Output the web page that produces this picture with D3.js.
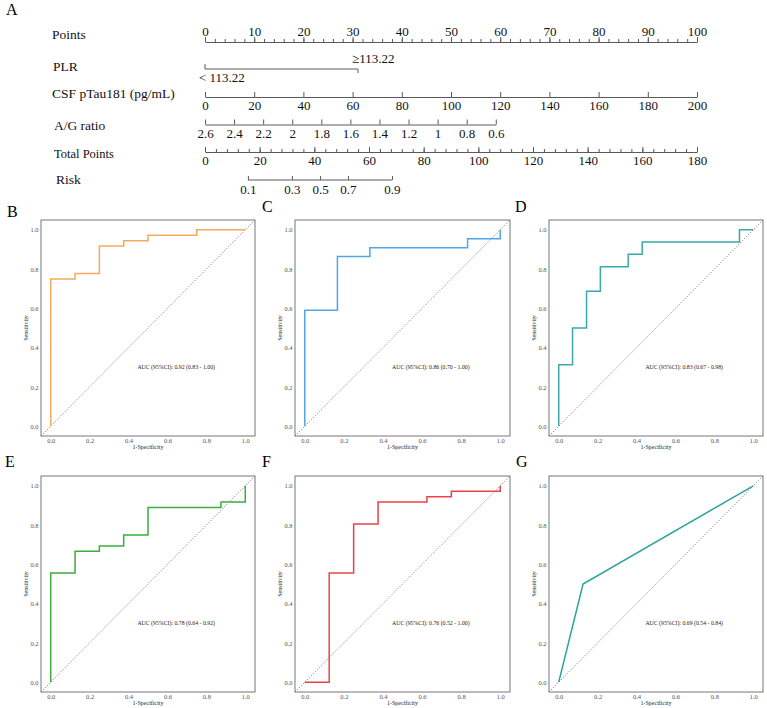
<!DOCTYPE html>
<html><head><meta charset="utf-8">
<script src="https://cdn.jsdelivr.net/npm/d3@7"></script>
<style>body{margin:0;background:#fff}svg{display:block}</style>
</head><body>
<svg id="c" width="767" height="708"></svg>
<script>
// ---------- Nomogram data ----------
const pointsMajor = [0,10,20,30,40,50,60,70,80,90,100];
const plrLabels = ["< 113.22", "≥113.22"];
const plrPoints = [0, 31.1];
const csfTicks = [0,20,40,60,80,100,120,140,160,180,200];
const csfMaxPoints = 100;           // points at CSF = 200
const agTicks = [2.6,2.4,2.2,2,1.8,1.6,1.4,1.2,1,0.8,0.6];
const agMaxPoints = 59.1;           // points at A/G = 0.6
const totalTicks = [0,20,40,60,80,100,120,140,160,180];
const riskTicks = [0.1,0.3,0.5,0.7,0.9];
const riskAtTotal = [15.7,31.8,42.1,52.3,68.4];
const rowLabels = ["Points","PLR","CSF pTau181 (pg/mL)","A/G ratio","Total Points","Risk"];

// ---------- ROC data ----------
const fprB = [0,0,0.125,0.125,0.25,0.25,0.375,0.375,0.5,0.5,0.75,0.75,1];
const tprB = [0,0.75,0.75,0.778,0.778,0.917,0.917,0.944,0.944,0.972,0.972,1,1];
const fprC = [0,0,0.167,0.167,0.333,0.333,0.833,0.833,1,1];
const tprC = [0,0.591,0.591,0.864,0.864,0.909,0.909,0.955,0.955,1];
const fprD = [0,0,0.071,0.071,0.143,0.143,0.214,0.214,0.357,0.357,0.429,0.429,0.929,0.929,1];
const tprD = [0,0.3125,0.3125,0.5,0.5,0.6875,0.6875,0.8125,0.8125,0.875,0.875,0.9375,0.9375,1,1];
const fprE = [0,0,0.125,0.125,0.25,0.25,0.375,0.375,0.5,0.5,0.875,0.875,1,1];
const tprE = [0,0.556,0.556,0.667,0.667,0.694,0.694,0.75,0.75,0.889,0.889,0.917,0.917,1];
const fprF = [0,0.125,0.125,0.25,0.25,0.375,0.375,0.625,0.625,0.75,0.75,1,1];
const tprF = [0,0,0.556,0.556,0.806,0.806,0.917,0.917,0.944,0.944,0.972,0.972,1];
const fprG = [0,0.125,1];
const tprG = [0,0.5,1];
const panelLetters = ["B","C","D","E","F","G"];
const aucTexts = ["AUC (95%CI): 0.92 (0.83 - 1.00)","AUC (95%CI): 0.86 (0.70 - 1.00)","AUC (95%CI): 0.83 (0.67 - 0.98)",
                  "AUC (95%CI): 0.78 (0.64 - 0.92)","AUC (95%CI): 0.76 (0.52 - 1.00)","AUC (95%CI): 0.69 (0.54 - 0.84)"];
const rocColors = ["#F5A95E","#4EA7E6","#3AA9AE","#3DAE3D","#E8434A","#2AA39E"];
const rocTicks = [0,0.2,0.4,0.6,0.8,1.0];

const SERIF = '"Liberation Serif","Times New Roman",serif';
const svg = d3.select("#c");
const axisColor = "#5a5a5a";

// ---------- Nomogram ----------
const x = d3.scaleLinear().domain([0,100]).range([205,697]);
svg.append("text").attr("x",6).attr("y",15).attr("font-family",SERIF).attr("font-size",16).text("A");

const labelPos = [[52,39],[53,71],[52,98],[54,130],[54,158],[56,184]];
const labelSize = [13.5,13.5,13.5,13.5,12.5,13.5];
rowLabels.forEach((t,i)=>{
  svg.append("text").attr("x",labelPos[i][0]).attr("y",labelPos[i][1])
    .attr("font-family",SERIF).attr("font-size",labelSize[i]).attr("fill","#111").text(t);
});

function styleAxis(g, size){
  g.attr("font-family",SERIF).attr("font-size",size);
  g.selectAll("text").attr("font-family",SERIF);
  g.selectAll("path.domain").attr("stroke",axisColor).attr("stroke-width",1);
  g.selectAll(".tick line").attr("stroke",axisColor);
  g.selectAll(".tick text").attr("fill","#111");
}

// Points axis
const gp = svg.append("g").attr("transform","translate(0,42)");
gp.call(d3.axisTop(x).tickValues(pointsMajor).tickSizeInner(5).tickSizeOuter(0).tickPadding(1.5));
gp.append("g").call(d3.axisTop(x).tickValues(d3.range(0,101,2)).tickSizeInner(3).tickSizeOuter(0).tickFormat(""))
  .selectAll("path.domain").remove();
styleAxis(gp,13);

// PLR
const plrY = 69;
const plrX = plrPoints.map(p=>x(p));
svg.append("path").attr("fill","none").attr("stroke",axisColor)
  .attr("d",d3.line()([[plrX[0],plrY-5],[plrX[0],plrY],[plrX[1],plrY],[plrX[1],plrY+4]]));
svg.append("text").attr("x",plrX[0]-6).attr("y",82).attr("font-family",SERIF).attr("font-size",13).attr("fill","#111").text(plrLabels[0]);
svg.append("text").attr("x",plrX[1]-6).attr("y",63).attr("font-family",SERIF).attr("font-size",13).attr("fill","#111").text(plrLabels[1]);

// CSF
const xCsf = d3.scaleLinear().domain([0,200]).range([x(0),x(csfMaxPoints)]);
const gc = svg.append("g").attr("transform","translate(0,97)");
gc.call(d3.axisBottom(xCsf).tickValues(csfTicks).tickSizeInner(-5).tickSizeOuter(0).tickPadding(4).tickFormat(d3.format("d")));
styleAxis(gc,13);

// A/G ratio
const xAg = d3.scaleLinear().domain([2.6,0.6]).range([x(0),x(agMaxPoints)]);
const ga = svg.append("g").attr("transform","translate(0,124.5)");
ga.call(d3.axisBottom(xAg).tickValues(agTicks).tickSizeInner(-5).tickSizeOuter(0).tickPadding(4).tickFormat(d=>String(+d.toFixed(1))));
styleAxis(ga,13);

// Total points
const xTot = d3.scaleLinear().domain([0,180]).range([205,697]);
const gt = svg.append("g").attr("transform","translate(0,152)");
gt.call(d3.axisBottom(xTot).tickValues(totalTicks).tickSizeInner(-5).tickSizeOuter(0).tickPadding(4));
gt.append("g").call(d3.axisBottom(xTot).tickValues(d3.range(0,181,4)).tickSizeInner(-3).tickSizeOuter(0).tickFormat(""))
  .selectAll("path.domain").remove();
styleAxis(gt,13);

// Risk
const gr = svg.append("g").attr("transform","translate(0,180)");
gr.call(d3.axisBottom(xTot).tickValues(riskAtTotal).tickSizeInner(-4).tickSizeOuter(0).tickPadding(5)
  .tickFormat((d,i)=>riskTicks[i]));
gr.select("path.domain").attr("d",`M${xTot(riskAtTotal[0])},0H${xTot(riskAtTotal[riskAtTotal.length-1])}`);
styleAxis(gr,13);

// ---------- ROC panels ----------
const fprs = [fprB,fprC,fprD,fprE,fprF,fprG];
const tprs = [tprB,tprC,tprD,tprE,tprF,tprG];
const boxes = [
  {l:41,r:255,t:220,b:436},{l:295,r:510,t:220,b:436},{l:549,r:763,t:220,b:436},
  {l:41,r:255,t:476,b:692},{l:295,r:510,t:476,b:692},{l:549,r:763,t:476,b:692}];
const letterPos = [[7,217],[262,212],[515,212],[5,467],[262,467],[516,467]];

boxes.forEach((bx,i)=>{
  const sx = d3.scaleLinear().domain([-0.05,1.05]).range([bx.l,bx.r]);
  const sy = d3.scaleLinear().domain([-0.05,1.05]).range([bx.b,bx.t]);
  const g = svg.append("g");
  svg.append("text").attr("x",letterPos[i][0]).attr("y",letterPos[i][1])
    .attr("font-family",SERIF).attr("font-size",16).text(panelLetters[i]);
  g.append("rect").attr("x",bx.l).attr("y",bx.t).attr("width",bx.r-bx.l).attr("height",bx.b-bx.t)
    .attr("fill","none").attr("stroke","#777").attr("stroke-width",1);
  g.append("line").attr("x1",sx(-0.05)).attr("y1",sy(-0.05)).attr("x2",sx(1.05)).attr("y2",sy(1.05))
    .attr("stroke","#666").attr("stroke-width",0.8).attr("stroke-dasharray","1.2,1.6");
  const ax = g.append("g").attr("transform",`translate(0,${bx.b})`)
    .call(d3.axisBottom(sx).tickValues(rocTicks).tickSize(0).tickPadding(2.5).tickFormat(d3.format(".1f")));
  const ay = g.append("g").attr("transform",`translate(${bx.l},0)`)
    .call(d3.axisLeft(sy).tickValues(rocTicks).tickSize(0).tickPadding(2.5).tickFormat(d3.format(".1f")));
  [ax,ay].forEach(a=>{
    a.select("path.domain").remove();
    a.attr("font-family",SERIF).attr("font-size",6.5);
    a.selectAll("text").attr("fill","#555").attr("font-family",SERIF);
  });
  g.append("text").attr("x",sx(0.5)).attr("y",bx.b+13).attr("text-anchor","middle")
    .attr("font-family",SERIF).attr("font-size",6).attr("fill","#222").text("1-Specificity");
  g.append("text").attr("transform",`translate(${bx.l-13},${(bx.t+bx.b)/2}) rotate(-90)`)
    .attr("text-anchor","middle").attr("font-family",SERIF).attr("font-size",6).attr("fill","#222").text("Sensitivity");
  const pts = fprs[i].map((f,k)=>[sx(f),sy(tprs[i][k])]);
  g.append("path").attr("d",d3.line()(pts)).attr("fill","none")
    .attr("stroke",rocColors[i]).attr("stroke-width",1.5).attr("stroke-linejoin","miter");
  g.append("text").attr("x",sx(0.645)).attr("y",sy(0.30)+2).attr("text-anchor","middle")
    .attr("font-family",SERIF).attr("font-size",5.8).attr("fill","#222").text(aucTexts[i]);
});
</script>
</body></html>
